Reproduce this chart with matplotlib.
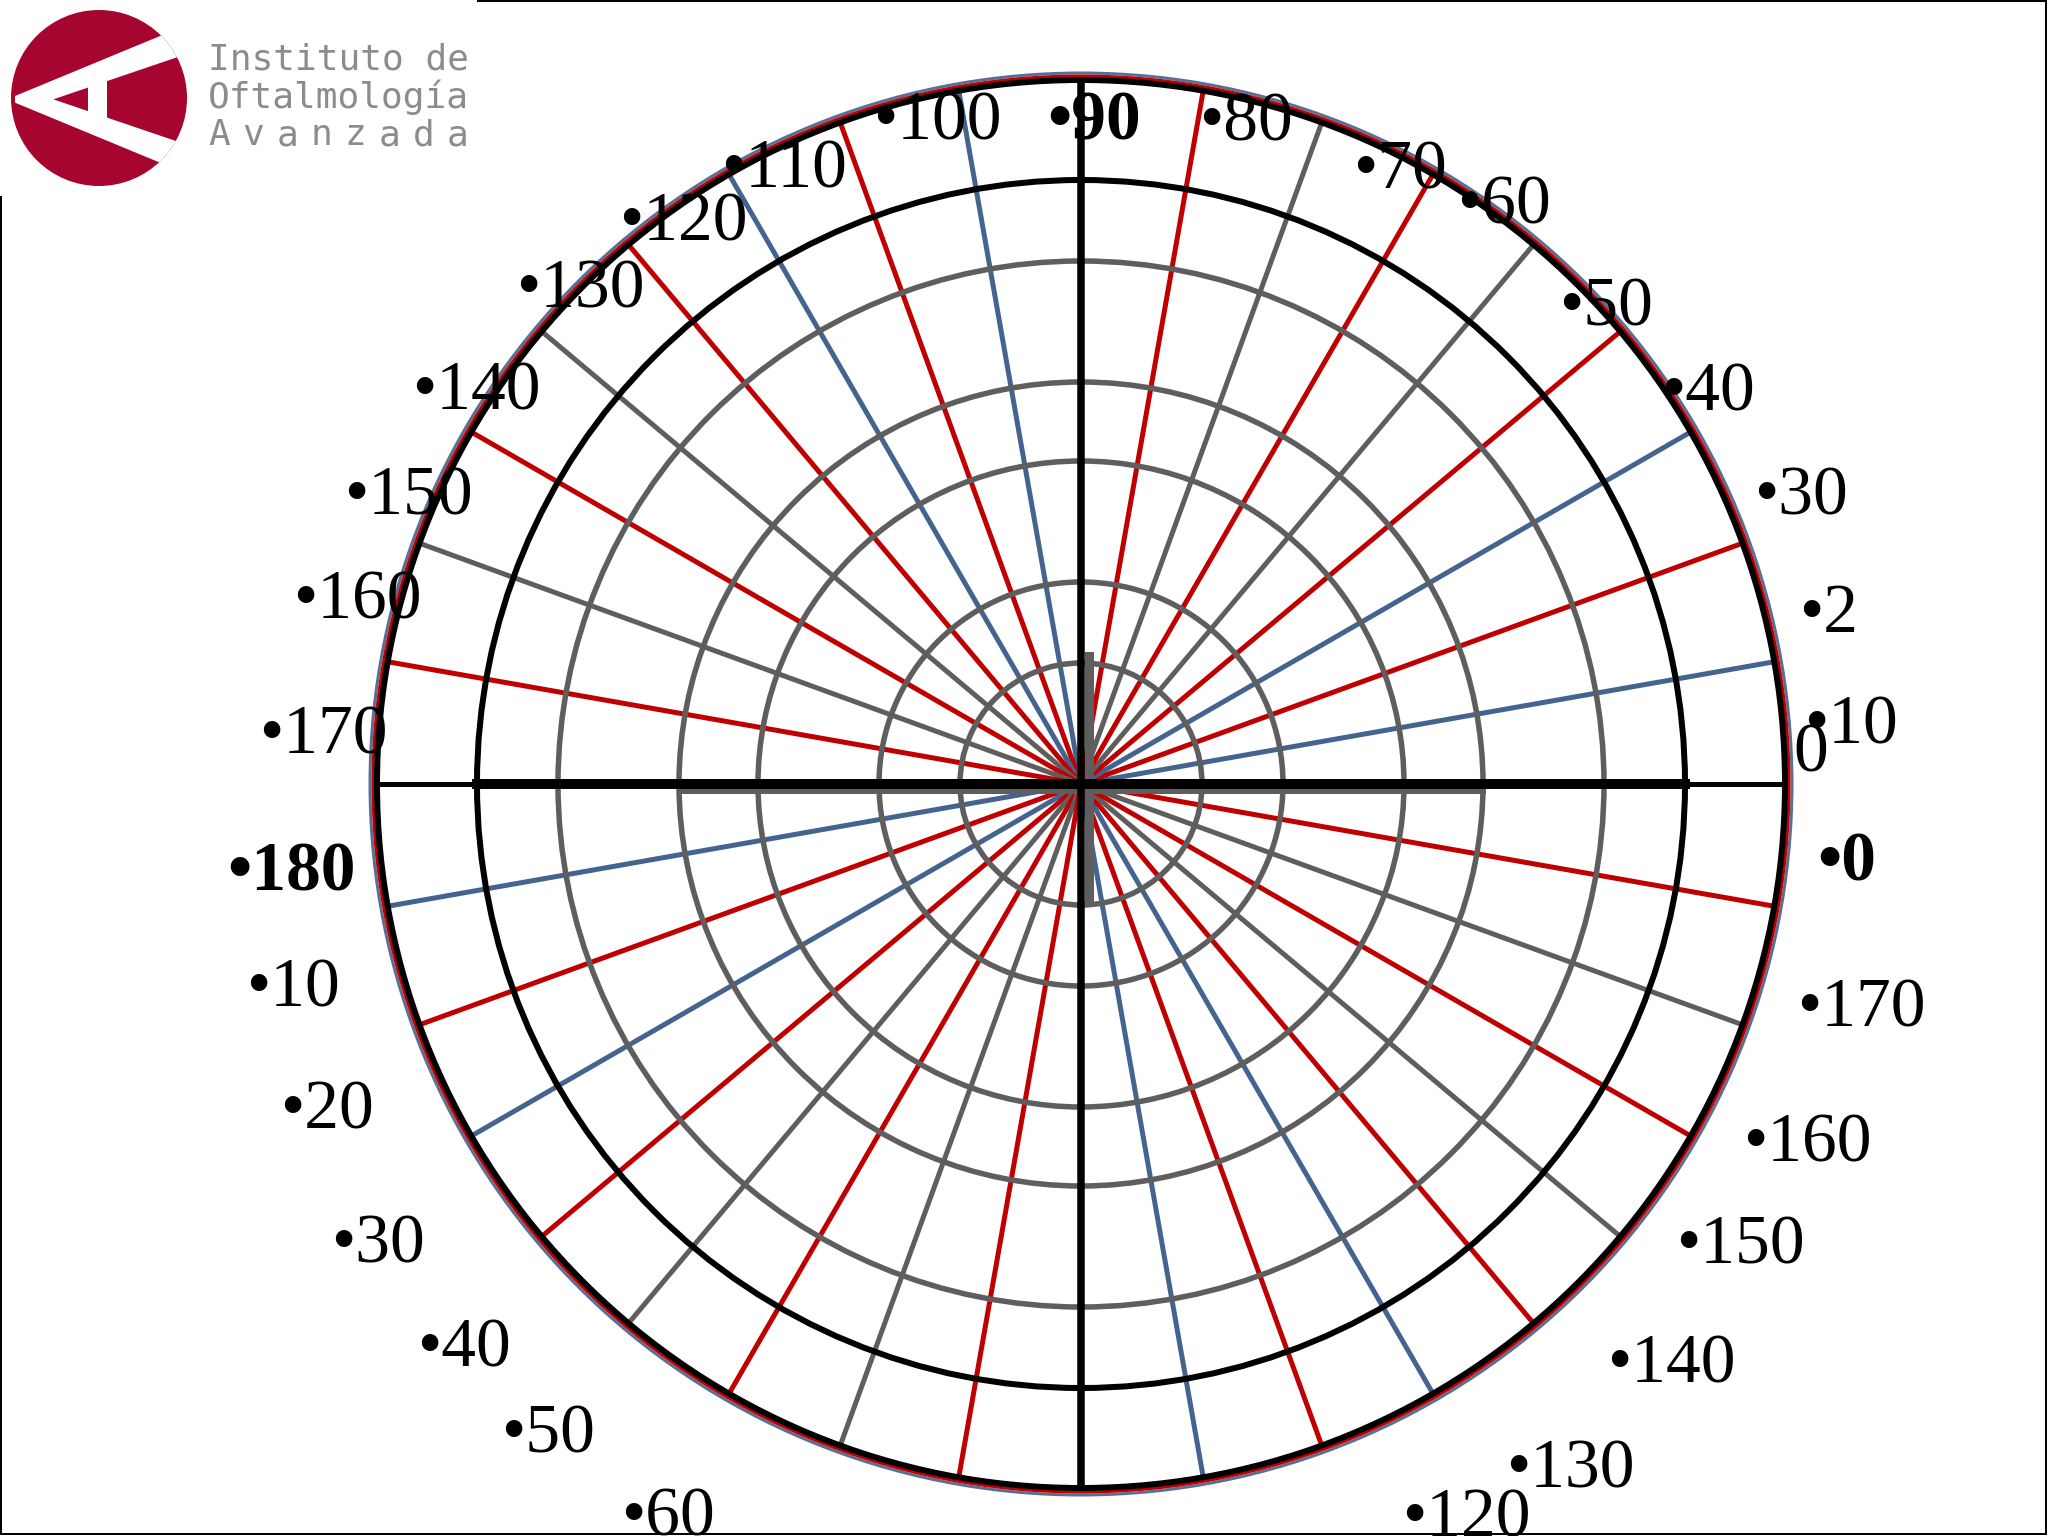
import matplotlib.pyplot as plt
import numpy as np
from matplotlib.patches import Circle, Polygon, Rectangle

# spokes: each one is a full diameter through the centre
spoke_angles = [10, 20, 30, 40, 50, 60, 70, 80, 100, 110, 120, 130, 140, 150, 160, 170]
spoke_kinds = ['b', 'r', 'b', 'r', 'g', 'r', 'g', 'r', 'b', 'r', 'b', 'r', 'g', 'r', 'g', 'r']

gray_rings = [121, 202, 323, 402, 523]
black_ring = 604
outer_ring = 705

# degree labels round the dial (upper set, then lower set)
upper_labels = ['0', '•10', '•2', '•30', '•40', '•50', '•60', '•70', '•80', '•90',
                '•100', '•110', '•120', '•130', '•140', '•150', '•160', '•170', '•180']
upper_angles = [2.9, 4.8, 13.3, 22.2, 32.4, 42.6, 54.1, 62.8, 76.1, 88.9,
                102.1, 115.6, 125.0, 135.0, 146.6, 156.4, 165.3, 175.9, 185.9]
upper_radii = [731, 773, 768, 778, 743, 713, 722, 697, 688, 669,
               684, 688, 693, 708, 724, 734, 748, 760, 794]

lower_labels = ['•10', '•20', '•30', '•40', '•50', '•60',
                '•120', '•130', '•140', '•150', '•160', '•170', '•0']
lower_angles = [194.1, 203.0, 212.9, 222.1, 230.4, 240.4,
                297.9, 305.8, 315.8, 325.4, 334.1, 344.4, 354.6]
lower_radii = [812, 819, 837, 832, 836, 836,
               824, 837, 824, 801, 808, 810, 769]

bold_labels = ['•90', '•180', '•0']

colors = {'r': '#c00000', 'b': '#44648f', 'g': '#5e5e5e'}
px = 0.72  # points per pixel at dpi 100

cx, cy = 1081, 784


def pol(r, a):
    t = np.radians(a)
    return cx + r * np.cos(t), cy - r * np.sin(t)


fig = plt.figure(figsize=(20.48, 15.36), dpi=100)
ax = fig.add_axes([0, 0, 1, 1])
ax.set_xlim(0, 2048)
ax.set_ylim(1536, 0)
ax.axis('off')

# spokes
for a, k in zip(spoke_angles, spoke_kinds):
    x0, y0 = pol(outer_ring, a)
    x1, y1 = pol(outer_ring, a + 180)
    ax.plot([x0, x1], [y0, y1], color=colors[k], lw=5 * px, solid_capstyle='butt', zorder=2)

# rings
for r in gray_rings:
    ax.add_patch(Circle((cx, cy), r, fill=False, ec=colors['g'], lw=5.5 * px, zorder=3))
ax.add_patch(Circle((cx, cy), black_ring, fill=False, ec='black', lw=6 * px, zorder=3))

# main axes cross, with the grey shadow next to it
ax.plot([cx - gray_rings[3], cx + gray_rings[3]], [cy + 7, cy + 7], color=colors['g'], lw=5 * px, zorder=3.5)
ax.plot([cx + 8, cx + 8], [cy - 128, cy + 118], color=colors['g'], lw=9 * px, zorder=3.5)
ax.plot([cx - outer_ring, cx + outer_ring], [cy, cy], color='black', lw=5 * px, zorder=4)
ax.plot([cx - black_ring, cx + black_ring], [cy, cy], color='black', lw=10 * px, zorder=4)
ax.plot([cx, cx], [cy - outer_ring, cy + outer_ring], color='black', lw=7.5 * px, zorder=4)

# outer rim (three slightly offset circles)
ax.add_patch(Circle((cx, cy), outer_ring + 6, fill=False, ec='#5a6f96', lw=3 * px, zorder=4))
ax.add_patch(Circle((cx, cy), outer_ring + 3, fill=False, ec=colors['r'], lw=3 * px, zorder=4))
ax.add_patch(Circle((cx, cy), outer_ring - 1, fill=False, ec='black', lw=6 * px, zorder=4))

# labels
for labs, angs, rads in [(upper_labels, upper_angles, upper_radii),
                         (lower_labels, lower_angles, lower_radii)]:
    for s, a, r in zip(labs, angs, rads):
        x, y = pol(r, a)
        ax.text(x, y, s, ha='center', va='center_baseline', fontsize=50,
                family='Liberation Serif',
                weight='bold' if s in bold_labels else 'normal', zorder=6)

# frame round the slide
ax.add_patch(Rectangle((1, 1), 2045, 1533, fill=False, ec='black', lw=2 * px, zorder=7))
ax.add_patch(Rectangle((0, 0), 477, 196, fc='white', ec='none', zorder=8))

# logo
logo = Circle((99, 98), 88, fc='#a5052f', ec='none', zorder=9)
ax.add_patch(logo)
chev = np.array([(45, 288), (560, 75), (560, 162), (160, 298),
                 (560, 434), (560, 521), (45, 308)]) / 3.0
p = Polygon(chev, closed=True, fc='white', ec='none', zorder=10)
ax.add_patch(p)
p.set_clip_path(logo)
bar = Rectangle((265 / 3, 220 / 3), 55 / 3, 155 / 3, fc='white', ec='none', zorder=10)
ax.add_patch(bar)
bar.set_clip_path(logo)

adv = 21.7  # monospace advance in px at 26 pt
logo_font = dict(fontsize=26, family='DejaVu Sans Mono', color='#8c8c8c', zorder=11,
                 ha='left', va='baseline')
ax.text(208, 70, 'Instituto de', **logo_font)
ax.text(208, 108, 'Oftalmología', **logo_font)
word = 'Avanzada'
step = adv * 11 / (len(word) - 1)
for i, ch in enumerate(word):
    ax.text(208 + i * step, 145, ch, **logo_font)

fig.savefig('out.png', dpi=100)
